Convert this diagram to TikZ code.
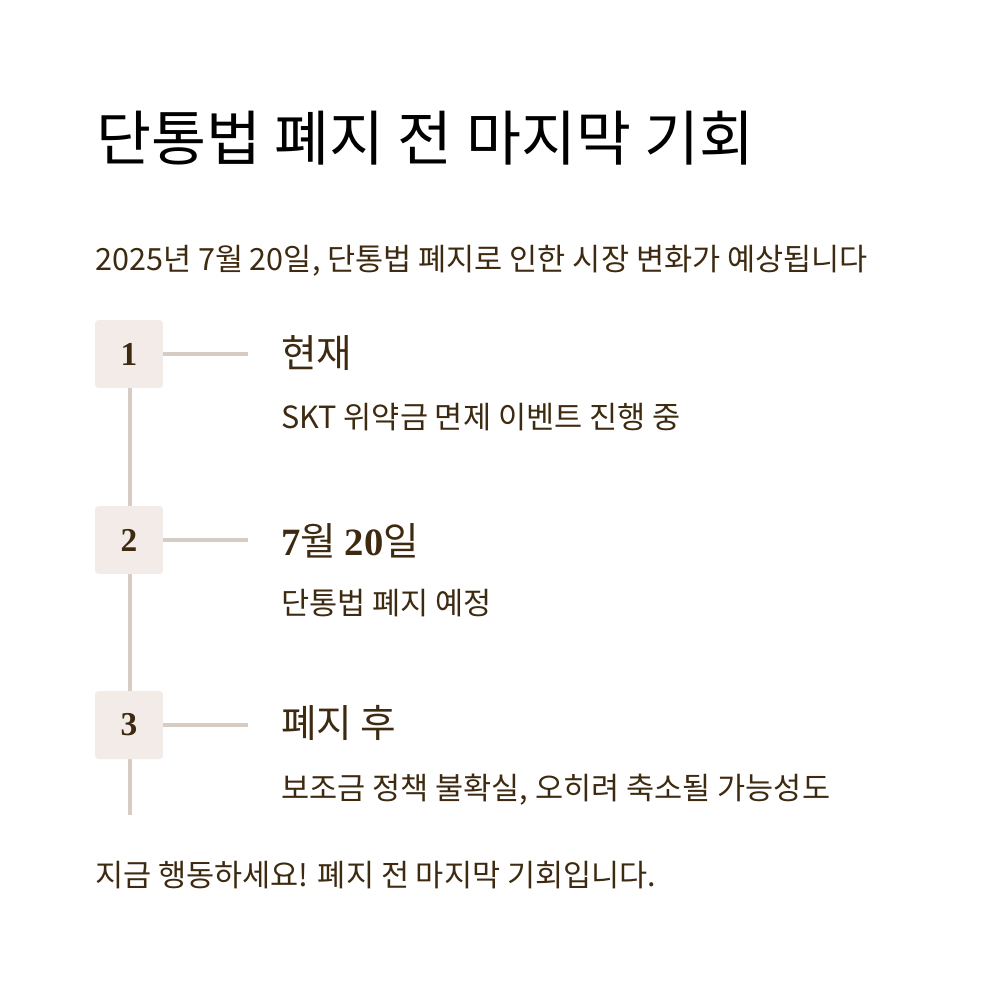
\documentclass[tikz,border=0pt]{standalone}
\usepackage{fontspec}
\setmainfont{Noto Sans CJK KR}
\newfontfamily\numfont{Liberation Serif}
\usetikzlibrary{positioning}
\definecolor{inkbrown}{HTML}{3D2A10}
\definecolor{boxfill}{HTML}{F2EBE7}
\definecolor{rulegray}{HTML}{D6CCC4}

\begin{document}
\begin{tikzpicture}[
    x=0.02cm, y=-0.02cm,
    stepbox/.style={
        rectangle,
        fill=boxfill,
        rounded corners=2pt,
        minimum size=1.36cm,
        inner sep=0pt,
        font=\numfont\bfseries\fontsize{19}{21}\selectfont,
        text=inkbrown
    },
    heading/.style={anchor=west, font=\fontsize{22}{25}\selectfont, text=inkbrown},
    desc/.style={anchor=west, font=\fontsize{17.4}{20}\selectfont, text=inkbrown},
    link/.style={rulegray, line width=2pt}
]
\useasboundingbox (0,0) rectangle (1000,1000);

% Title and intro
\node[anchor=west, font=\fontsize{34}{38}\selectfont] (title) at (90,138) {단통법 폐지 전 마지막 기회};
\node[anchor=west, font=\fontsize{17.4}{20}\selectfont, text=inkbrown] (intro) at (89,261) {2025년 7월 20일, 단통법 폐지로 인한 시장 변화가 예상됩니다};

% Timeline spine
\coordinate (spineend) at (130,815);
\draw[link] (130,388) -- (spineend);

% Steps
\node[stepbox] (one) at (129,354) {1};
\node[stepbox] (two) at (129,540) {2};
\node[stepbox] (three) at (129,725) {3};

\coordinate (tipone) at (248,354);
\coordinate (tiptwo) at (248,540);
\coordinate (tipthree) at (248,725);
\draw[link] (one) -- (tipone);
\draw[link] (two) -- (tiptwo);
\draw[link] (three) -- (tipthree);

\node[heading] (headone) at (275,353) {현재};
\node[desc] (descone) at (275,417) {SKT 위약금 면제 이벤트 진행 중};
\node[heading] (headtwo) at (275,541) {{\numfont\bfseries 7}월 {\numfont\bfseries 20}일};
\node[desc] (desctwo) at (275,603) {단통법 폐지 예정};
\node[heading] (headthree) at (275,723) {폐지 후};
\node[desc] (descthree) at (275,790) {보조금 정책 불확실, 오히려 축소될 가능성도};

% Closing line
\node[anchor=west, font=\fontsize{17.4}{20}\selectfont, text=inkbrown] (outro) at (89,875) {지금 행동하세요! 폐지 전 마지막 기회입니다.};
\end{tikzpicture}
\end{document}
